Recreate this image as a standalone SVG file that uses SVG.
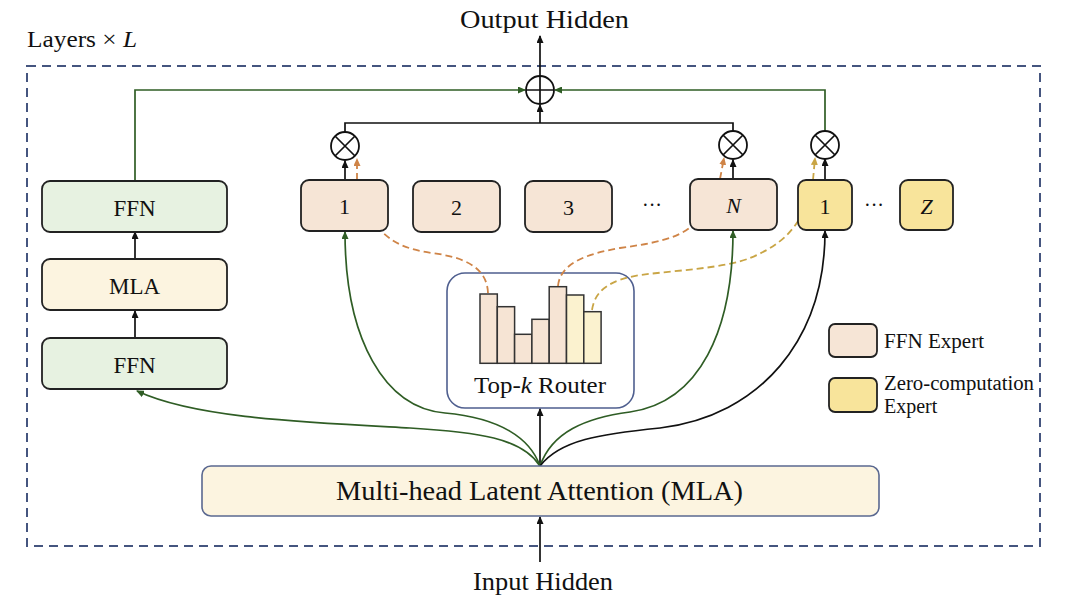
<svg xmlns="http://www.w3.org/2000/svg" width="1080" height="605" viewBox="0 0 1080 605">
<style>
text{font-family:"Liberation Serif","Times New Roman",serif;fill:#111}
.box{stroke:#222;stroke-width:1.8}
.ffn{fill:#e7f2e1}
.mla{fill:#fcf4e0}
.exp{fill:#f6e5d6}
.zero{fill:#f8e49b}
.ln{fill:none;stroke:#111;stroke-width:1.7}
.gr{fill:none;stroke:#2f5d25;stroke-width:1.7}
.od{fill:none;stroke:#cf8447;stroke-width:1.8;stroke-dasharray:7,4}
.yd{fill:none;stroke:#c9a545;stroke-width:1.8;stroke-dasharray:7,4}
.circ{fill:#fff;stroke:#111;stroke-width:1.8}
.bar{stroke:#333;stroke-width:1.5}
</style>
<defs>
<marker id="ab" markerWidth="8" markerHeight="7" refX="7" refY="3.5" orient="auto" markerUnits="userSpaceOnUse"><path d="M0,0 L8,3.5 L0,7 z" fill="#111"/></marker>
<marker id="ag" markerWidth="8" markerHeight="7" refX="7" refY="3.5" orient="auto" markerUnits="userSpaceOnUse"><path d="M0,0 L8,3.5 L0,7 z" fill="#2f5d25"/></marker>
<marker id="ao" markerWidth="8" markerHeight="7" refX="7" refY="3.5" orient="auto" markerUnits="userSpaceOnUse"><path d="M0,0 L8,3.5 L0,7 z" fill="#cf8447"/></marker>
<marker id="ay" markerWidth="8" markerHeight="7" refX="7" refY="3.5" orient="auto" markerUnits="userSpaceOnUse"><path d="M0,0 L8,3.5 L0,7 z" fill="#c9a545"/></marker>
</defs>

<g id="layers-frame">
<rect x="27" y="66" width="1013" height="480" fill="none" stroke="#45557f" stroke-width="2" stroke-dasharray="9,6"/>
<text x="27" y="47" font-size="23" textLength="110" lengthAdjust="spacingAndGlyphs">Layers × <tspan font-style="italic">L</tspan></text>
</g>

<g id="output-label"><text x="460" y="28" font-size="26" textLength="169" lengthAdjust="spacingAndGlyphs">Output Hidden</text></g>
<g id="input-label"><text x="473" y="590" font-size="26" textLength="140" lengthAdjust="spacingAndGlyphs">Input Hidden</text></g>

<g id="router">
<rect x="447" y="273" width="187" height="135" rx="18" fill="#fff" stroke="#4f5f8f" stroke-width="1.6"/>
<rect class="bar" x="480" y="294" width="17.3" height="69.3" fill="#f6e4d4"/>
<rect class="bar" x="497.3" y="306.7" width="17.3" height="56.6" fill="#f6e4d4"/>
<rect class="bar" x="514.6" y="334.3" width="17.3" height="29" fill="#f6e4d4"/>
<rect class="bar" x="531.9" y="319.3" width="17.3" height="44" fill="#f6e4d4"/>
<rect class="bar" x="549.2" y="286.7" width="17.3" height="76.6" fill="#f6e4d4"/>
<rect class="bar" x="566.5" y="295" width="17.3" height="68.3" fill="#fbf2cf"/>
<rect class="bar" x="583.8" y="311.7" width="17.3" height="51.6" fill="#fbf2cf"/>
<text x="474" y="393" font-size="23" textLength="132" lengthAdjust="spacingAndGlyphs">Top-<tspan font-style="italic">k</tspan> Router</text>
</g>

<g id="connectors">
<line class="ln" x1="540" y1="76" x2="540" y2="36" marker-end="url(#ab)"/>
<line class="ln" x1="540" y1="562" x2="540" y2="517" marker-end="url(#ab)"/>
<line class="ln" x1="135" y1="338" x2="135" y2="311" marker-end="url(#ab)"/>
<line class="ln" x1="135" y1="259" x2="135" y2="232" marker-end="url(#ab)"/>
<polyline class="gr" points="135,181 135,90 525,90" marker-end="url(#ag)"/>
<polyline class="gr" points="825,131 825,90 555,90" marker-end="url(#ag)"/>
<polyline class="ln" points="345,132 345,123 733,123 733,131"/>
<line class="ln" x1="540" y1="123" x2="540" y2="105" marker-end="url(#ab)"/>
<line class="ln" x1="345" y1="180" x2="345" y2="161" marker-end="url(#ab)"/>
<line class="ln" x1="733" y1="179" x2="733" y2="160" marker-end="url(#ab)"/>
<line class="ln" x1="825" y1="180" x2="825" y2="159" marker-end="url(#ab)"/>
<path class="od" d="M488,293 C487,266 462,257 432,253 C405,249 394,243 381,231"/>
<line class="od" x1="357" y1="180" x2="357" y2="159" marker-end="url(#ao)"/>
<path class="od" d="M558,286 C560,264 585,254 620,248 C655,243 676,239 692,226"/>
<line class="od" x1="720" y1="179" x2="724" y2="158" marker-end="url(#ao)"/>
<path class="yd" d="M592,310 C595,290 610,280 640,275 C680,270 725,268 750,258 C775,248 790,235 800,218"/>
<line class="yd" x1="813" y1="180" x2="815" y2="158" marker-end="url(#ay)"/>
<line class="ln" x1="540" y1="466" x2="540" y2="409" marker-end="url(#ab)"/>
<path class="gr" d="M540,466 C522,438 478,432 410,428 C300,422 195,418 137,391" marker-end="url(#ag)"/>
<path class="gr" d="M540,466 C530,438 500,418 445,413 C385,408 345,340 345,232" marker-end="url(#ag)"/>
<path class="gr" d="M540,466 C552,432 585,418 630,412 C700,402 733,330 733,231" marker-end="url(#ag)"/>
<path class="ln" d="M540,466 C560,440 600,434 660,428 C760,416 825,340 825,231" marker-end="url(#ab)"/>
</g>

<g id="plus"><circle class="circ" cx="540" cy="90" r="14"/><path class="ln" d="M526,90 H554 M540,76 V104"/></g>
<g id="mul-1"><circle class="circ" cx="345" cy="146" r="14"/><path class="ln" d="M335,136 L355,156 M355,136 L335,156"/></g>
<g id="mul-n"><circle class="circ" cx="733" cy="145" r="14"/><path class="ln" d="M723,135 L743,155 M743,135 L723,155"/></g>
<g id="mul-z"><circle class="circ" cx="825" cy="145" r="14"/><path class="ln" d="M815,135 L835,155 M835,135 L815,155"/></g>

<g id="ffn-top"><rect class="box ffn" x="42" y="181" width="185" height="51" rx="8"/><text x="134.5" y="216" font-size="23" text-anchor="middle">FFN</text></g>
<g id="mla-small"><rect class="box mla" x="42" y="259" width="185" height="51" rx="8"/><text x="134.5" y="294" font-size="23" text-anchor="middle">MLA</text></g>
<g id="ffn-bottom"><rect class="box ffn" x="42" y="338" width="185" height="51" rx="8"/><text x="134.5" y="373" font-size="23" text-anchor="middle">FFN</text></g>

<g id="expert-1"><rect class="box exp" x="301" y="180" width="87" height="51" rx="8"/><text x="344.5" y="214" font-size="22" text-anchor="middle">1</text></g>
<g id="expert-2"><rect class="box exp" x="413" y="181" width="87" height="51" rx="8"/><text x="456.5" y="215" font-size="22" text-anchor="middle">2</text></g>
<g id="expert-3"><rect class="box exp" x="525" y="181" width="87" height="51" rx="8"/><text x="568.5" y="215" font-size="22" text-anchor="middle">3</text></g>
<g id="dots-1"><text x="652" y="212" font-size="20" text-anchor="middle">···</text></g>
<g id="expert-n"><rect class="box exp" x="690" y="179" width="87" height="51" rx="8"/><text x="733.5" y="213" font-size="22" font-style="italic" text-anchor="middle">N</text></g>
<g id="zero-1"><rect class="box zero" x="798" y="180" width="54" height="50" rx="8"/><text x="825" y="214" font-size="22" text-anchor="middle">1</text></g>
<g id="dots-2"><text x="874" y="212" font-size="20" text-anchor="middle">···</text></g>
<g id="zero-z"><rect class="box zero" x="900" y="180" width="53" height="50" rx="8"/><text x="926.5" y="214" font-size="22" font-style="italic" text-anchor="middle">Z</text></g>

<g id="mla-main"><rect x="202" y="466" width="677" height="50" rx="9" fill="#fcf4e0" stroke="#5a6890" stroke-width="1.6"/><text x="336" y="500" font-size="27" textLength="407" lengthAdjust="spacingAndGlyphs">Multi-head Latent Attention (MLA)</text></g>

<g id="legend">
<rect class="box exp" x="829" y="324" width="48" height="33" rx="6"/>
<text x="884" y="348" font-size="20" textLength="100" lengthAdjust="spacingAndGlyphs">FFN Expert</text>
<rect class="box zero" x="829" y="378" width="48" height="34" rx="6"/>
<text x="884" y="390" font-size="20" textLength="150" lengthAdjust="spacingAndGlyphs">Zero-computation</text>
<text x="884" y="413" font-size="20">Expert</text>
</g>
</svg>
